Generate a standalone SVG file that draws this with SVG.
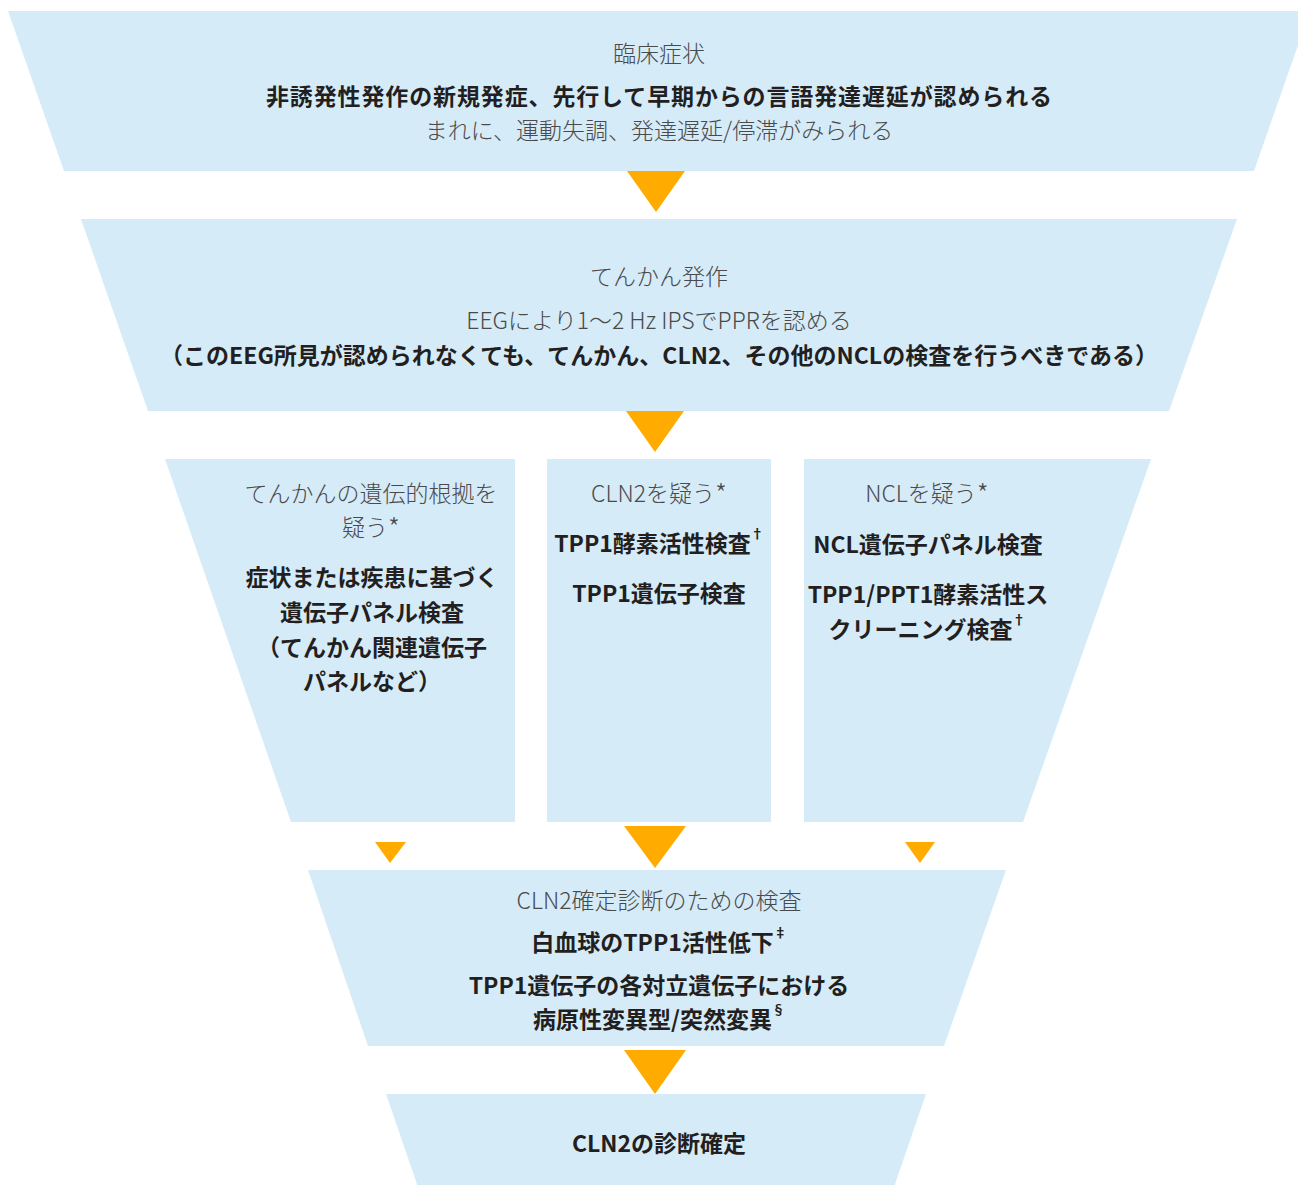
<svg xmlns="http://www.w3.org/2000/svg" width="1298" height="1185" viewBox="0 0 1298 1185">
  <style>
    .box { fill: #d6ebf8; }
    .arrow { fill: #ffab00; }
    text { font-family: "Noto Sans CJK JP", "Noto Sans", sans-serif; font-size: 23px; text-anchor: middle; dominant-baseline: central; }
    .h { fill: #4a4a4a; font-weight: 300; }
    .b { fill: #231f20; font-weight: 700; }
    .sup { font-size: 13px; }
    .ast { font-size: 27px; }
  </style>
  <rect width="1298" height="1185" fill="#ffffff"/>

  <!-- clinical symptoms -->
  <g id="node-symptoms">
    <polygon class="box" points="8,11 1310,11 1254,171 64,171"/>
    <text class="h" x="659" y="52">臨床症状</text>
    <text class="b" x="659" y="95" textLength="786" lengthAdjust="spacing">非誘発性発作の新規発症、先行して早期からの言語発達遅延が認められる</text>
    <text class="h" x="659" y="129">まれに、運動失調、発達遅延/停滞がみられる</text>
  </g>

  <!-- epileptic seizures -->
  <g id="node-seizure">
    <polygon class="box" points="81,219 1237,219 1169,411 148,411"/>
    <text class="h" x="659" y="275">てんかん発作</text>
    <text class="h" x="659" y="319">EEGにより1〜2 Hz IPSでPPRを認める</text>
    <text class="b" x="659" y="354">（このEEG所見が認められなくても、てんかん、CLN2、その他のNCLの検査を行うべきである）</text>
  </g>

  <!-- genetic basis of epilepsy -->
  <g id="node-genetic">
    <polygon class="box" points="165,459 515,459 515,822 291,822"/>
    <text class="h" x="371" y="492">てんかんの遺伝的根拠を</text>
    <text class="h" x="371" y="526">疑う<tspan class="ast">*</tspan></text>
    <text class="b" x="372" y="576">症状または疾患に基づく</text>
    <text class="b" x="372" y="611">遺伝子パネル検査</text>
    <text class="b" x="372" y="646">（てんかん関連遺伝子</text>
    <text class="b" x="372" y="680">パネルなど）</text>
  </g>

  <!-- suspected CLN2 -->
  <g id="node-cln2">
    <polygon class="box" points="547,459 771,459 771,822 547,822"/>
    <text class="h" x="659" y="492">CLN2を疑う<tspan class="ast">*</tspan></text>
    <text class="b" x="659" y="542">TPP1酵素活性検査<tspan class="sup" baseline-shift="super">†</tspan></text>
    <text class="b" x="659" y="592">TPP1遺伝子検査</text>
  </g>

  <!-- suspected NCL -->
  <g id="node-ncl">
    <polygon class="box" points="804,459 1151,459 1023,822 804,822"/>
    <text class="h" x="927" y="492">NCLを疑う<tspan class="ast">*</tspan></text>
    <text class="b" x="928" y="543">NCL遺伝子パネル検査</text>
    <text class="b" x="928" y="593">TPP1/PPT1酵素活性ス</text>
    <text class="b" x="927" y="628">クリーニング検査<tspan class="sup" baseline-shift="super">†</tspan></text>
  </g>

  <!-- confirmatory tests -->
  <g id="node-confirm">
    <polygon class="box" points="308,870 1006,870 944,1046 368,1046"/>
    <text class="h" x="659" y="899">CLN2確定診断のための検査</text>
    <text class="b" x="659" y="941">白血球のTPP1活性低下<tspan class="sup" baseline-shift="super">‡</tspan></text>
    <text class="b" x="659" y="984">TPP1遺伝子の各対立遺伝子における</text>
    <text class="b" x="659" y="1018">病原性変異型/突然変異<tspan class="sup" baseline-shift="super">§</tspan></text>
  </g>

  <!-- diagnosis -->
  <g id="node-diagnosis">
    <polygon class="box" points="386,1094 926,1094 893,1190 419,1190"/>
    <text class="b" x="659" y="1142">CLN2の診断確定</text>
  </g>

  <g id="connectors">
    <polygon class="arrow" points="627,171 685,171 656,212"/>
    <polygon class="arrow" points="626,411 684,411 655,452"/>
    <polygon class="arrow" points="624,826 686,826 655,868"/>
    <polygon class="arrow" points="375,842 406,842 390,863"/>
    <polygon class="arrow" points="905,842 935,842 920,863"/>
    <polygon class="arrow" points="624,1050 686,1050 655,1094"/>
  </g>
</svg>
